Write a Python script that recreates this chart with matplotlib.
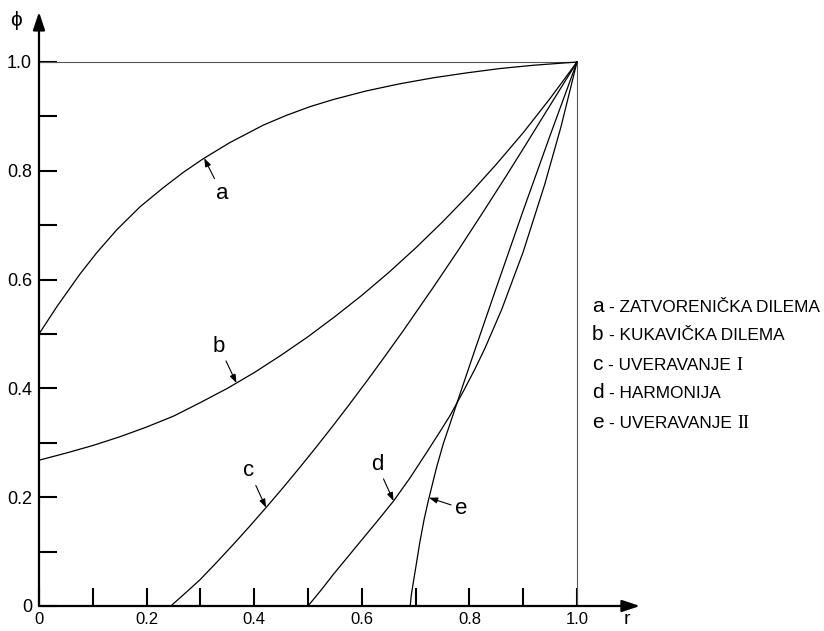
import matplotlib
matplotlib.use('Agg')
import matplotlib.pyplot as plt
import numpy as np
from matplotlib.offsetbox import TextArea, HPacker, AnnotationBbox

plt.rcParams['font.family'] = ['Liberation Sans', 'DejaVu Sans']

# ---- data ----
r_a = [0.0, 0.033, 0.076, 0.107, 0.144, 0.188, 0.231, 0.268, 0.305, 0.355, 0.417,
       0.460, 0.504, 0.547, 0.609, 0.671, 0.733, 0.795, 0.857, 0.919, 1.0]
phi_a = [0.5, 0.550, 0.610, 0.649, 0.691, 0.734, 0.769, 0.797, 0.822, 0.852, 0.884,
         0.902, 0.918, 0.931, 0.947, 0.960, 0.971, 0.980, 0.988, 0.994, 1.0]

r_b = [0.0, 0.05, 0.10, 0.15, 0.20, 0.25, 0.30, 0.35, 0.40, 0.45, 0.50,
       0.55, 0.60, 0.65, 0.70, 0.75, 0.80, 0.85, 0.90, 0.95, 1.0]
phi_b = [0.268, 0.281, 0.295, 0.311, 0.329, 0.349, 0.374, 0.400, 0.429, 0.461, 0.495,
         0.532, 0.571, 0.613, 0.658, 0.706, 0.757, 0.812, 0.870, 0.933, 1.0]

r_c = [0.245, 0.270, 0.299, 0.330, 0.361, 0.392, 0.423, 0.454, 0.485, 0.516, 0.547,
       0.578, 0.609, 0.640, 0.677, 0.733, 0.780, 0.826, 0.870, 0.906, 0.956, 1.0]
phi_c = [0.0, 0.022, 0.048, 0.080, 0.113, 0.147, 0.182, 0.218, 0.255, 0.293, 0.332,
         0.372, 0.413, 0.455, 0.506, 0.586, 0.655, 0.725, 0.793, 0.850, 0.930, 1.0]

r_d = [0.5, 0.525, 0.547, 0.572, 0.597, 0.628, 0.659, 0.690, 0.721, 0.745, 0.764,
       0.790, 0.810, 0.829, 0.860, 0.900, 0.940, 0.970, 1.0]
phi_d = [0.0, 0.030, 0.058, 0.088, 0.118, 0.155, 0.193, 0.236, 0.283, 0.320, 0.350,
         0.397, 0.435, 0.474, 0.545, 0.651, 0.775, 0.880, 1.0]

r_e = [0.690, 0.692, 0.696, 0.701, 0.708, 0.716, 0.724, 0.739, 0.752, 0.763, 0.786,
       0.810, 0.850, 0.900, 0.950, 1.0]
phi_e = [0.0, 0.020, 0.045, 0.075, 0.118, 0.160, 0.195, 0.255, 0.300, 0.332, 0.400,
         0.470, 0.585, 0.727, 0.865, 1.0]

curve_letters = ['a', 'b', 'c', 'd', 'e']
label_r = [0.307, 0.367, 0.422, 0.659, 0.725]          # where each arrow points
label_offsets = [(12.7, -25.2), (-12.5, 26.4), (-12.2, 26.4), (-12.0, 26.4), (23.3, -7.6)]

x_ticks = [0.0, 0.1, 0.2, 0.3, 0.4, 0.5, 0.6, 0.7, 0.8, 0.9, 1.0]
x_tick_labels = ['0', '', '0.2', '', '0.4', '', '0.6', '', '0.8', '', '1.0']
y_ticks = [0.0, 0.1, 0.2, 0.3, 0.4, 0.5, 0.6, 0.7, 0.8, 0.9, 1.0]
y_tick_labels = ['0', '', '0.2', '', '0.4', '', '0.6', '', '0.8', '', '1.0']

legend_names = ['- ZATVORENIČKA DILEMA', '- KUKAVIČKA DILEMA', '- UVERAVANJE', '- HARMONIJA', '- UVERAVANJE']
legend_roman = ['', '', 'I', '', 'II']

# ---- figure ----
W, H = 824, 631
fig = plt.figure(figsize=(W / 100, H / 100), dpi=100)
ax = fig.add_axes([39 / W, 25 / H, 538 / W, 544 / H])
ax.set_xlim(0, 1)
ax.set_ylim(0, 1)
for s in ax.spines.values():
    s.set_visible(False)

# frame at phi=1 and r=1
ax.plot([0, 1], [1, 1], color='#555555', lw=0.8, solid_capstyle='butt', clip_on=False)
ax.plot([1, 1], [0, 1], color='#555555', lw=0.8, solid_capstyle='butt', clip_on=False)

# axes with arrows
arrow_kw = dict(arrowstyle='-|>,head_length=0.9,head_width=0.3', lw=1.6, color='black',
                shrinkA=0, shrinkB=0, mutation_scale=12)
ax.annotate('', xy=(1.117, 0), xytext=(0, 0), arrowprops=arrow_kw, annotation_clip=False)
ax.annotate('', xy=(0, 1.092), xytext=(0, 0), arrowprops=arrow_kw, annotation_clip=False)

ax.set_xticks(x_ticks)
ax.set_xticklabels(x_tick_labels)
ax.set_yticks(y_ticks)
ax.set_yticklabels(y_tick_labels)
ax.tick_params(axis='both', direction='in', length=13, width=1.5, color='black',
               labelsize=13)
ax.tick_params(axis='x', pad=4, labelsize=12)
ax.tick_params(axis='y', pad=5)

curves = [(r_a, phi_a), (r_b, phi_b), (r_c, phi_c), (r_d, phi_d), (r_e, phi_e)]
for (rr, pp) in curves:
    ax.plot(rr, pp, color='black', lw=0.9, clip_on=False)

for (rr, pp), letter, rt, off in zip(curves, curve_letters, label_r, label_offsets):
    pt = np.interp(rt, rr, pp)
    ax.annotate(letter, xy=(rt, pt), xytext=off, textcoords='offset points',
                ha='center', va='center', fontsize=16,
                arrowprops=dict(arrowstyle='-|>,head_length=0.5,head_width=0.18', lw=0.8,
                                color='black', shrinkA=1, shrinkB=0, mutation_scale=10))

fig.text(16 / W, 1 - 20 / H, 'ϕ', ha='center', va='center', fontsize=15)
fig.text(627 / W, 1 - 620 / H, 'r', ha='center', va='center', fontsize=14)

# legend text
ys = [306, 335, 364, 393, 422]
for letter, name, rom, yy in zip(curve_letters, legend_names, legend_roman, ys):
    parts = [TextArea(letter, textprops=dict(size=15)),
             TextArea(name, textprops=dict(size=12.4))]
    if rom:
        parts.append(TextArea(rom, textprops=dict(size=13, family='Liberation Serif')))
    box = HPacker(children=parts, align='baseline', pad=0, sep=4)
    ab = AnnotationBbox(box, (592, H - yy), xycoords='figure pixels', box_alignment=(0, 0.5),
                        frameon=False, pad=0)
    fig.add_artist(ab)

fig.savefig('out.png', dpi=100)
